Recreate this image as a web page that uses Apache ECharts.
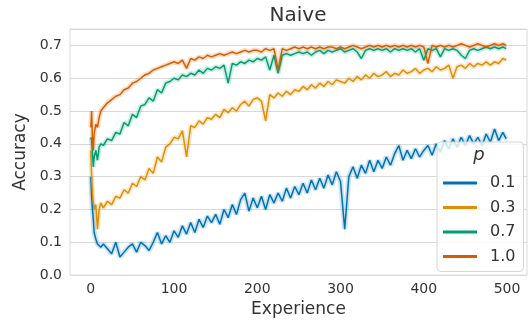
<!DOCTYPE html>
<html>
<head>
<meta charset="utf-8">
<script src="https://cdn.jsdelivr.net/npm/echarts@6.0.0/dist/echarts.min.js"></script>
<style>
  html, body { margin: 0; padding: 0; background: #fff; }
  #chart { width: 528px; height: 323px; }
</style>
</head>
<body>
<div id="chart"></div>
<script>
// experience steps (denser at the start where the curves move fast)
const experience = [
  0, 1, 2, 3, 4, 6, 8, 10, 12, 15,
  20, 25, 30, 35, 40, 45, 50, 55, 60, 65, 70, 75, 80, 85, 90, 95, 100, 105, 110, 115,
  120, 125, 130, 135, 140, 145, 150, 155, 160, 165, 170, 175, 180, 185, 190, 195, 200, 205, 210, 215,
  220, 225, 230, 235, 240, 245, 250, 255, 260, 265, 270, 275, 280, 285, 290, 295, 300, 305, 310, 315,
  320, 325, 330, 335, 340, 345, 350, 355, 360, 365, 370, 375, 380, 385, 390, 395, 400, 405, 410, 415,
  420, 425, 430, 435, 440, 445, 450, 455, 460, 465, 470, 475, 480, 485, 490, 495, 499
];

const pLabels = ["0.1", "0.3", "0.7", "1.0"];
const colors = ["#0173b2", "#de8f05", "#029e73", "#d55e00"];

// p = 0.1
const acc01 = [
  0.30, 0.24, 0.20, 0.17, 0.13, 0.11, 0.095, 0.10, 0.085, 0.095,
  0.08, 0.065, 0.10, 0.055, 0.07, 0.085, 0.095, 0.07, 0.10, 0.09, 0.075, 0.10, 0.13, 0.095, 0.12, 0.10, 0.135, 0.115, 0.15, 0.125,
  0.16, 0.13, 0.17, 0.145, 0.18, 0.16, 0.185, 0.155, 0.20, 0.175, 0.215, 0.185, 0.23, 0.25, 0.195, 0.235, 0.205, 0.24, 0.20, 0.245,
  0.22, 0.25, 0.225, 0.265, 0.235, 0.27, 0.245, 0.28, 0.25, 0.29, 0.26, 0.295, 0.265, 0.305, 0.275, 0.315, 0.285, 0.14, 0.30, 0.33,
  0.295, 0.335, 0.31, 0.35, 0.315, 0.35, 0.325, 0.36, 0.335, 0.37, 0.395, 0.35, 0.38, 0.355, 0.385, 0.36, 0.38, 0.395, 0.365, 0.40,
  0.375, 0.41, 0.385, 0.415, 0.39, 0.42, 0.395, 0.425, 0.40, 0.42, 0.395, 0.43, 0.405, 0.445, 0.41, 0.435, 0.415
];
// p = 0.3
const acc03 = [
  0.38, 0.30, 0.25, 0.22, 0.20, 0.215, 0.14, 0.20, 0.22, 0.205,
  0.225, 0.215, 0.24, 0.235, 0.26, 0.25, 0.28, 0.27, 0.30, 0.29, 0.325, 0.31, 0.36, 0.345, 0.39, 0.40, 0.42, 0.415, 0.44, 0.36,
  0.455, 0.45, 0.47, 0.46, 0.48, 0.475, 0.49, 0.48, 0.505, 0.495, 0.51, 0.50, 0.52, 0.53, 0.515, 0.535, 0.54, 0.53, 0.47, 0.55,
  0.54, 0.555, 0.545, 0.56, 0.55, 0.565, 0.56, 0.575, 0.565, 0.58, 0.57, 0.585, 0.575, 0.59, 0.58, 0.595, 0.59, 0.585, 0.60, 0.59,
  0.605, 0.595, 0.61, 0.60, 0.615, 0.605, 0.61, 0.62, 0.605, 0.615, 0.61, 0.625, 0.615, 0.62, 0.63, 0.615, 0.625, 0.63, 0.62, 0.635,
  0.625, 0.63, 0.64, 0.60, 0.635, 0.64, 0.63, 0.645, 0.635, 0.645, 0.64, 0.65, 0.64, 0.65, 0.645, 0.66, 0.655
];
// p = 0.7
const acc07 = [
  0.42, 0.41, 0.37, 0.33, 0.36, 0.38, 0.35, 0.39, 0.40, 0.395,
  0.415, 0.41, 0.435, 0.43, 0.465, 0.455, 0.49, 0.48, 0.515, 0.52, 0.54, 0.53, 0.565, 0.555, 0.585, 0.59, 0.60, 0.595, 0.61, 0.605,
  0.615, 0.61, 0.625, 0.615, 0.63, 0.625, 0.635, 0.63, 0.64, 0.585, 0.645, 0.64, 0.65, 0.645, 0.655, 0.65, 0.66, 0.655, 0.665, 0.625,
  0.67, 0.615, 0.67, 0.675, 0.67, 0.675, 0.68, 0.675, 0.68, 0.67, 0.68, 0.685, 0.675, 0.685, 0.68, 0.685, 0.69, 0.68, 0.685, 0.69,
  0.68, 0.66, 0.685, 0.69, 0.685, 0.69, 0.685, 0.69, 0.68, 0.69, 0.685, 0.69, 0.685, 0.69, 0.68, 0.69, 0.655, 0.69, 0.685, 0.69,
  0.665, 0.69, 0.685, 0.69, 0.685, 0.67, 0.66, 0.685, 0.69, 0.685, 0.69, 0.695, 0.69, 0.695, 0.69, 0.695, 0.69
];
// p = 1.0
const acc10 = [
  0.45, 0.50, 0.41, 0.38, 0.43, 0.46, 0.45, 0.48, 0.50, 0.51,
  0.525, 0.535, 0.545, 0.55, 0.565, 0.57, 0.585, 0.59, 0.60, 0.61, 0.615, 0.625, 0.63, 0.635, 0.64, 0.645, 0.65, 0.645, 0.655, 0.63,
  0.66, 0.655, 0.665, 0.66, 0.67, 0.665, 0.67, 0.675, 0.67, 0.675, 0.68, 0.675, 0.68, 0.685, 0.68, 0.685, 0.685, 0.68, 0.69, 0.685,
  0.69, 0.625, 0.69, 0.685, 0.69, 0.695, 0.69, 0.695, 0.69, 0.695, 0.69, 0.695, 0.69, 0.695, 0.695, 0.69, 0.695, 0.69, 0.695, 0.70,
  0.695, 0.69, 0.695, 0.70, 0.695, 0.70, 0.695, 0.70, 0.695, 0.70, 0.695, 0.70, 0.695, 0.70, 0.695, 0.70, 0.695, 0.645, 0.70, 0.695,
  0.70, 0.695, 0.70, 0.695, 0.70, 0.705, 0.70, 0.695, 0.70, 0.705, 0.70, 0.695, 0.70, 0.705, 0.70, 0.705, 0.70
];

const xTicks = [0, 100, 200, 300, 400, 500];
const accuracy = [acc01, acc03, acc07, acc10];

const fontFamily = "DejaVu Sans";
const textColor = "#333";
const gridColor = "#d9d9d9";

const chart = echarts.init(document.getElementById("chart"));

const toPoints = vals => experience.map((x, i) => [x, vals[i]]);

let series = [];
// soft band under each line (stands in for the seaborn confidence band)
accuracy.forEach((vals, i) => {
  series.push({
    name: pLabels[i] + " band",
    type: "line",
    data: toPoints(vals),
    showSymbol: false,
    silent: true,
    lineStyle: { color: colors[i], width: 5, opacity: 0.2 },
    z: 2,
  });
});
accuracy.forEach((vals, i) => {
  series.push({
    name: pLabels[i],
    type: "line",
    data: toPoints(vals),
    showSymbol: false,
    color: colors[i],
    lineStyle: { color: colors[i], width: 1.5 },
    z: 3,
  });
});

const option = {
  animation: false,
  backgroundColor: "#fff",
  title: [
    {
      text: "Naive",
      left: 298,
      top: 6,
      textAlign: "center",
      padding: 0,
      textStyle: { fontFamily, fontSize: 20, fontWeight: "normal", color: textColor },
    },
    {
      // legend title
      text: "p",
      left: 479,
      top: 146,
      textAlign: "center",
      padding: 0,
      z: 10,
      textStyle: { fontFamily, fontSize: 18, fontStyle: "italic", fontWeight: "normal", color: textColor },
    },
  ],
  grid: {
    left: 70,
    right: 1,
    top: 29,
    bottom: 42,
    show: true,
    borderColor: gridColor,
    borderWidth: 1,
  },
  legend: {
    data: pLabels,
    orient: "vertical",
    left: 437,
    top: 142,
    padding: [33, 8, 7, 6],
    itemGap: 8.5,
    itemWidth: 34,
    itemHeight: 3,
    icon: "rect",
    backgroundColor: "rgba(255,255,255,0.8)",
    borderColor: "#d6d6d6",
    borderWidth: 1,
    borderRadius: 4,
    textStyle: { fontFamily, fontSize: 16, color: textColor, padding: [0, 0, 0, 8] },
  },
  xAxis: {
    type: "value",
    min: -25,
    max: 524,
    name: "Experience",
    nameLocation: "middle",
    nameGap: 23,
    nameTextStyle: { fontFamily, fontSize: 17, color: textColor },
    axisLine: { show: false },
    axisTick: { show: false },
    splitLine: { show: false },
    axisLabel: {
      customValues: xTicks,
      fontFamily,
      fontSize: 14,
      color: textColor,
      margin: 7,
    },
  },
  yAxis: {
    type: "value",
    min: 0,
    max: 0.75,
    interval: 0.1,
    name: "Accuracy",
    nameLocation: "middle",
    nameGap: 37,
    nameTextStyle: { fontFamily, fontSize: 17, color: textColor },
    axisLine: { show: false },
    axisTick: { show: false },
    splitLine: { lineStyle: { color: gridColor, width: 1 } },
    axisLabel: {
      showMaxLabel: false,
      formatter: v => v.toFixed(1),
      fontFamily,
      fontSize: 14,
      color: textColor,
      margin: 8,
    },
  },
  series: series,
};

chart.setOption(option);
</script>
</body>
</html>
